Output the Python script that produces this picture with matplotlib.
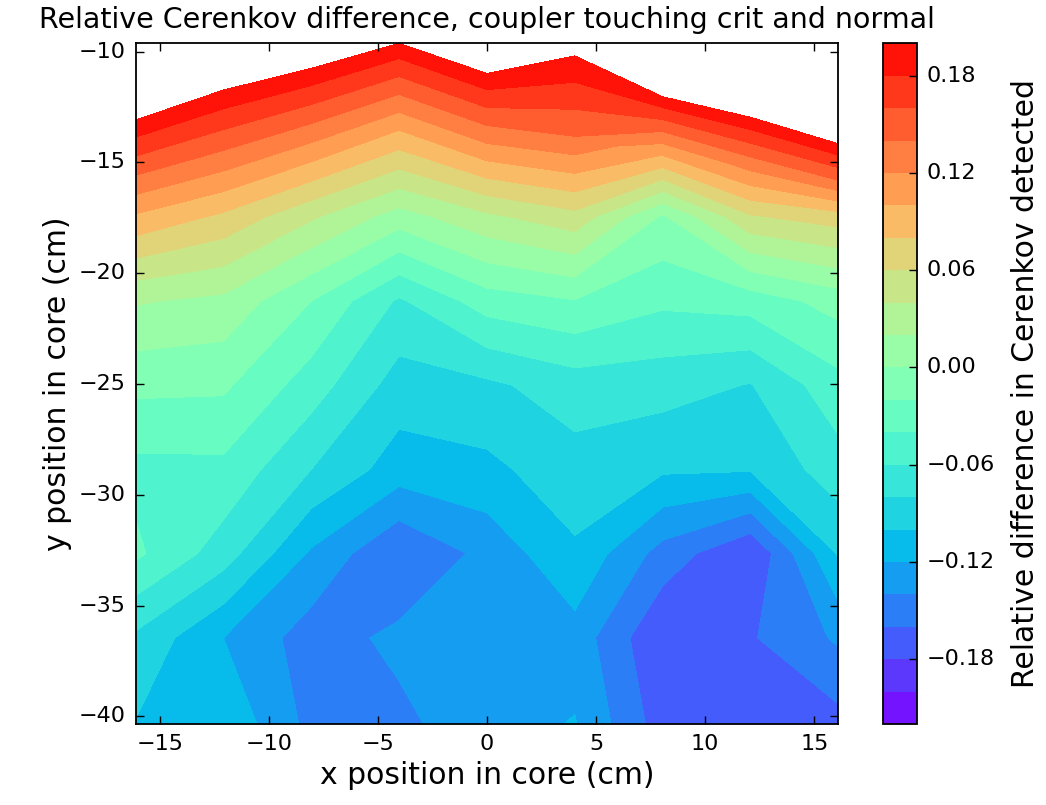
import numpy as np
import matplotlib
matplotlib.use('Agg')
import matplotlib.pyplot as plt
from matplotlib.ticker import FuncFormatter

plt.style.use('classic')

# measurement grid: x columns (cm)
x_pos = [-16.1, -12.08, -8.05, -4.03, 0.0, 4.03, 8.05, 12.08, 16.1]

# y rows shared by all columns (cm), bottom up
y_rows = [-40.35, -36.46, -32.65, -28.85, -25.05, -21.25, -17.45]
# upper two rows differ per column (top of the core is not flat)
y_mid = [-15.27, -14.59, -14.10, -13.54, -14.22, -13.82, -14.74, -15.21, -15.80]
y_top = [-13.08, -11.73, -10.75, -9.62, -10.98, -10.19, -12.03, -12.96, -14.15]

# relative Cerenkov difference, one list per row (bottom up), one value per column
diff_r0 = [-0.101, -0.104, -0.146, -0.145, -0.127, -0.119, -0.170, -0.170, -0.167]
diff_r1 = [-0.084, -0.120, -0.150, -0.135, -0.130, -0.128, -0.179, -0.162, -0.137]
diff_r2 = [-0.036, -0.070, -0.123, -0.1595, -0.134, -0.1033, -0.148, -0.1795, -0.098]
diff_r3 = [-0.046, -0.045, -0.080, -0.110, -0.105, -0.088, -0.097, -0.098, -0.069]
diff_r4 = [-0.015, -0.0164, -0.050, -0.089, -0.084, -0.070, -0.072, -0.081, -0.047]
diff_r5 = [0.022, 0.015, -0.020, -0.063, -0.030, -0.021, -0.036, -0.031, -0.012]
diff_r6 = [0.097, 0.0756, 0.043, 0.0106, 0.0355, 0.053, -0.003, 0.0575, 0.070]
diff_mid = [0.147, 0.137, 0.120, 0.100, 0.118, 0.140, 0.098, 0.125, 0.140]
diff_top = [0.198, 0.198, 0.198, 0.197, 0.198, 0.1995, 0.198, 0.198, 0.198]

cbar_ticks = [-0.18, -0.12, -0.06, 0.00, 0.06, 0.12, 0.18]

# build the 2d grid for contourf
X = np.tile(np.array(x_pos), (len(y_rows) + 2, 1))
Y = np.vstack([np.full(len(x_pos), y) for y in y_rows] + [y_mid, y_top])
Z = np.array([diff_r0, diff_r1, diff_r2, diff_r3, diff_r4, diff_r5, diff_r6,
              diff_mid, diff_top])

fig = plt.figure(figsize=(10.46, 8.05), dpi=100, facecolor='white')
ax = fig.add_axes([0.1297, 0.1006, 0.6717, 0.8456])
cax = fig.add_axes([0.8439, 0.1006, 0.0325, 0.8456])

levels = np.linspace(-0.22, 0.20, 22)
cs = ax.contourf(X, Y, Z, levels=levels, cmap='rainbow')

ax.set_xlim(-16.1, 16.1)
ax.set_ylim(-40.35, -9.62)
ax.set_xticks([-15, -10, -5, 0, 5, 10, 15])
ax.set_yticks([-40, -35, -30, -25, -20, -15, -10])
ax.tick_params(labelsize=16, length=5.5, width=1.0, direction='in', pad=7)
for sp in ax.spines.values():
    sp.set_linewidth(1.3)

ax.set_title('Relative Cerenkov difference, coupler touching crit and normal',
             fontsize=20.5, pad=11)
ax.set_xlabel('x position in core (cm)', fontsize=21.5)
ax.set_ylabel('y position in core (cm)', fontsize=21.5)

cb = fig.colorbar(cs, cax=cax, ticks=cbar_ticks)
cb.ax.yaxis.set_major_formatter(
    FuncFormatter(lambda v, p: ('%.2f' % v).replace('-', '\u2212')))
cb.ax.tick_params(labelsize=16, length=5.5, width=1.0, direction='in', pad=7)
cb.outline.set_linewidth(1.3)
cb.set_label('Relative difference in Cerenkov detected', fontsize=21.5, labelpad=12)

fig.savefig('out.png', dpi=100, facecolor='white')
